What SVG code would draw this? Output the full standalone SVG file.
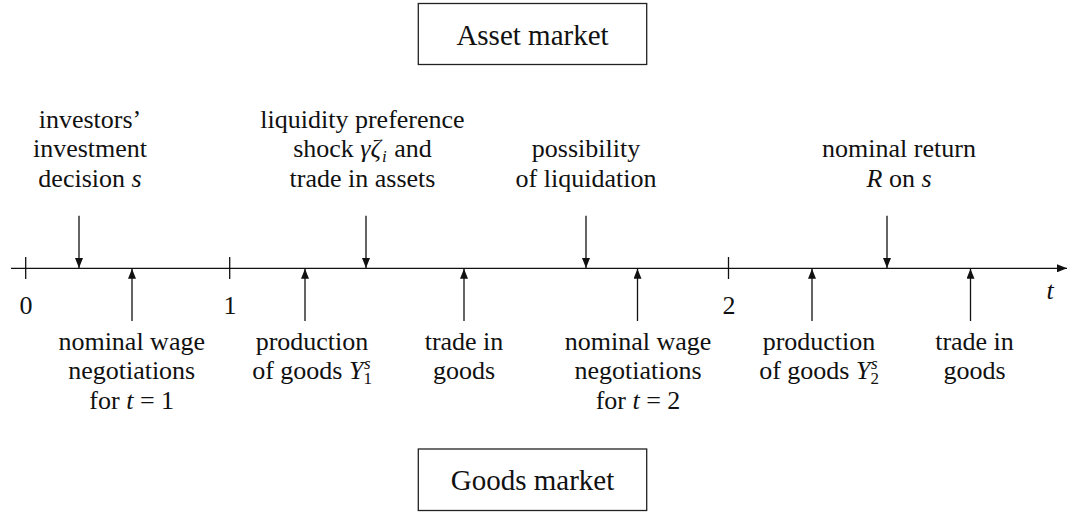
<svg xmlns="http://www.w3.org/2000/svg" width="1068" height="514" viewBox="0 0 1068 514">
<style>
text{font-family:Liberation Serif,Tinos,Noto Serif,DejaVu Serif,FreeSerif,Nimbus Roman,Times,serif;font-size:26px;fill:#111;text-anchor:middle}
.box{fill:#fff;stroke:#222;stroke-width:1.3}
.bt{font-size:29px}
.i{font-style:italic}
.sm{font-size:17px}
.ln{stroke:#111;stroke-width:1.3;fill:none}
</style>
<defs>
<marker id="ah" viewBox="0 0 10 8" refX="10" refY="4" markerWidth="10" markerHeight="8" markerUnits="userSpaceOnUse" orient="auto">
<path d="M0,0 L10,4 L0,8 Z" fill="#111"/>
</marker>
</defs>
<g id="asset-market">
<rect class="box" x="418.3" y="3.5" width="228.4" height="61"/>
<text class="bt" x="532.5" y="44.5">Asset market</text>
</g>
<g id="goods-market">
<rect class="box" x="418.3" y="449" width="228.4" height="61.5"/>
<text class="bt" x="532.5" y="490">Goods market</text>
</g>
<g id="axis">
<line class="ln" x1="11" y1="268.3" x2="1067" y2="268.3" marker-end="url(#ah)"/>
<line class="ln" x1="25.7" y1="257" x2="25.7" y2="279"/>
<line class="ln" x1="229.7" y1="257" x2="229.7" y2="279"/>
<line class="ln" x1="728.5" y1="257" x2="728.5" y2="279"/>
<text x="26" y="314">0</text>
<text x="230" y="314">1</text>
<text x="729" y="314">2</text>
<text class="i" x="1050" y="299">t</text>
</g>
<g id="investment-decision">
<text x="90" y="127.7">investors’</text>
<text x="90" y="157.3">investment</text>
<text x="90" y="186.7">decision <tspan class="i">s</tspan></text>
</g>
<g id="liquidity-shock">
<text x="362.5" y="127.7">liquidity preference</text>
<text x="362.5" y="157.3">shock <tspan class="i">γζ</tspan><tspan class="i sm" dx="1" dy="5">i</tspan><tspan dx="1" dy="-5"> and</tspan></text>
<text x="362.5" y="186.7">trade in assets</text>
</g>
<g id="liquidation">
<text x="586" y="157.3">possibility</text>
<text x="586" y="186.7">of liquidation</text>
</g>
<g id="nominal-return">
<text x="899" y="157.3">nominal return</text>
<text x="899" y="186.7"><tspan class="i">R</tspan> on <tspan class="i">s</tspan></text>
</g>
<g id="wage-negotiations-1">
<text x="131.7" y="350">nominal wage</text>
<text x="131.7" y="379.3">negotiations</text>
<text x="131.7" y="408.7">for <tspan class="i">t</tspan> = 1</text>
</g>
<g id="production-1">
<text x="312" y="350">production</text>
<text x="312" y="379.3">of goods <tspan class="i">Y</tspan><tspan class="sm" dy="5">1</tspan><tspan class="i sm" dx="-8" dy="-15">s</tspan></text>
</g>
<g id="trade-goods-1">
<text x="464" y="350">trade in</text>
<text x="464" y="379.3">goods</text>
</g>
<g id="wage-negotiations-2">
<text x="638" y="350">nominal wage</text>
<text x="638" y="379.3">negotiations</text>
<text x="638" y="408.7">for <tspan class="i">t</tspan> = 2</text>
</g>
<g id="production-2">
<text x="819" y="350">production</text>
<text x="819" y="379.3">of goods <tspan class="i">Y</tspan><tspan class="sm" dy="5">2</tspan><tspan class="i sm" dx="-8" dy="-15">s</tspan></text>
</g>
<g id="trade-goods-2">
<text x="974.5" y="350">trade in</text>
<text x="974.5" y="379.3">goods</text>
</g>
<g id="connectors">
<line class="ln" x1="79" y1="215.7" x2="79" y2="268" marker-end="url(#ah)"/>
<line class="ln" x1="366" y1="215.7" x2="366" y2="268" marker-end="url(#ah)"/>
<line class="ln" x1="586" y1="215.7" x2="586" y2="268" marker-end="url(#ah)"/>
<line class="ln" x1="887" y1="215.7" x2="887" y2="268" marker-end="url(#ah)"/>
<line class="ln" x1="132" y1="321" x2="132" y2="268.8" marker-end="url(#ah)"/>
<line class="ln" x1="305" y1="321" x2="305" y2="268.8" marker-end="url(#ah)"/>
<line class="ln" x1="464" y1="321" x2="464" y2="268.8" marker-end="url(#ah)"/>
<line class="ln" x1="637.5" y1="321" x2="637.5" y2="268.8" marker-end="url(#ah)"/>
<line class="ln" x1="812" y1="321" x2="812" y2="268.8" marker-end="url(#ah)"/>
<line class="ln" x1="970.5" y1="321" x2="970.5" y2="268.8" marker-end="url(#ah)"/>
</g>
</svg>
